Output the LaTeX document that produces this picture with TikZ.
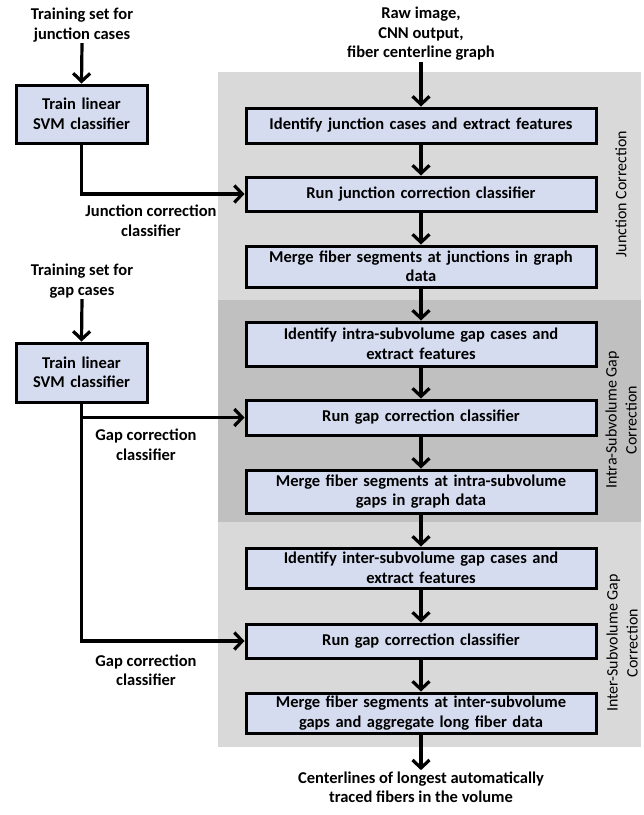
\documentclass[tikz,border=0pt]{standalone}
\usepackage{fontspec}
\setmainfont{Carlito}
\usetikzlibrary{arrows.meta,shadows}
\definecolor{boxfill}{RGB}{214,220,240}
\definecolor{lightpanel}{RGB}{217,217,217}
\definecolor{darkpanel}{RGB}{192,192,192}
\begin{document}
\begin{tikzpicture}[x=1pt,y=-1pt,
  font=\bfseries\fontsize{16.5}{19.5}\selectfont,
  mainbox/.style={draw=black, line width=3pt, fill=boxfill, minimum width=350pt, text width=345pt, align=center, inner sep=0pt,
    drop shadow={shadow xshift=2pt, shadow yshift=-2pt, fill=black, opacity=0.35}},
  trainbox/.style={mainbox, minimum width=131pt, text width=125pt, minimum height=58pt},
  plain/.style={align=center, inner sep=1pt},
  side/.style={align=center, rotate=90, font=\fontsize{16}{20}\selectfont},
  arr/.style={line width=3.2pt, -{Straight Barb[length=8pt,width=17pt,line width=3.2pt]}}
]
\fill[white] (0,0) rectangle (644,815);
\useasboundingbox (0,0) rectangle (644,815);
% panels
\fill[lightpanel] (218,72) rectangle (641,300);
\fill[darkpanel] (218,300) rectangle (641,522);
\fill[lightpanel] (218,522) rectangle (641,747);

% main column
\node[plain] (top) at (421,34) {Raw image,\\CNN output,\\fiber centerline graph};
\node[mainbox, minimum height=35pt] (b1) at (421,125.5) {Identify junction cases and extract features};
\node[mainbox, minimum height=34pt] (b2) at (421,194) {Run junction correction classifier};
\node[mainbox, minimum height=41pt] (b3) at (421,266.5) {Merge fiber segments at junctions in graph\\data};
\node[mainbox, minimum height=44pt] (b4) at (421,344) {Identify intra-subvolume gap cases and\\extract features};
\node[mainbox, minimum height=35pt] (b5) at (421,417.5) {Run gap correction classifier};
\node[mainbox, minimum height=43pt] (b6) at (421,491.5) {Merge fiber segments at intra-subvolume\\gaps in graph data};
\node[mainbox, minimum height=40pt] (b7) at (421,568) {Identify inter-subvolume gap cases and\\extract features};
\node[mainbox, minimum height=34pt] (b8) at (421,641) {Run gap correction classifier};
\node[mainbox, minimum height=40pt] (b9) at (421,713) {Merge fiber segments at inter-subvolume\\gaps and aggregate long fiber data};
\node[plain] (out) at (421,787) {Centerlines of longest automatically\\traced fibers in the volume};

% side labels
\node[side] (s1) at (621,194) {Junction Correction};
\node[side] (s2) at (621,420) {Intra-Subvolume Gap\\Correction};
\node[side] (s3) at (622,643) {Inter-Subvolume Gap\\Correction};

% left column
\node[plain] (ts1) at (82,25) {Training set for\\junction cases};
\node[trainbox] (t1) at (81.5,114) {Train linear\\SVM classifier};
\node[plain] (l1) at (151,221) {Junction correction\\classifier};
\node[plain] (ts2) at (82,281) {Training set for\\gap cases};
\node[trainbox, minimum height=59pt] (t2) at (81.5,372.5) {Train linear\\SVM classifier};
\node[plain] (l2) at (146,445) {Gap correction\\classifier};
\node[plain] (l3) at (146,670) {Gap correction\\classifier};

% connectors
\draw[arr] (top.south) -- (b1.north);
\draw[arr] (b1) -- (b2);
\draw[arr] (b2) -- (b3);
\draw[arr] (b3) -- (b4);
\draw[arr] (b4) -- (b5);
\draw[arr] (b5) -- (b6);
\draw[arr] (b6) -- (b7);
\draw[arr] (b7) -- (b8);
\draw[arr] (b8) -- (b9);
\draw[arr] (b9.south) -- (out.north);
\draw[arr] (ts1.south) -- (t1.north);
\draw[arr] (ts2.south) -- (t2.north);
\draw[arr] (t1.south) |- (b2.west);
\draw[arr] (t2.south) |- (b5.west);
\draw[arr] (t2.south) |- (b8.west);
\end{tikzpicture}
\end{document}
